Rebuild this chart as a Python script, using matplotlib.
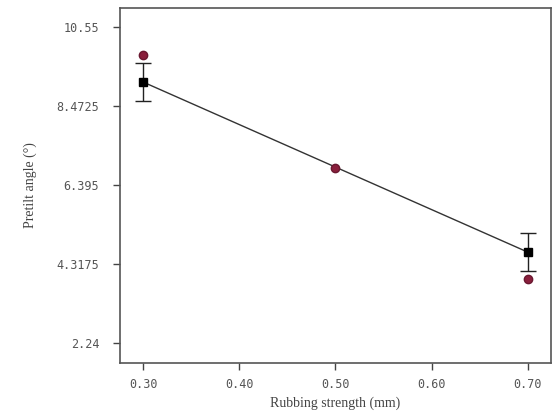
import matplotlib.pyplot as plt
import numpy as np

# rubbing strength (mm)
strength = [0.30, 0.50, 0.70]
# measured pretilt (squares with error bars) at the ends
meas_x = [0.30, 0.70]
meas_y = [9.10, 4.63]
meas_err = [0.50, 0.50]
# model points (circles)
model_y = [9.81, 6.84, 3.92]

yticks = [2.24, 4.3175, 6.395, 8.4725, 10.55]
ytick_labels = ["2.24", "4.3175", "6.395", "8.4725", "10.55"]
xticks = [0.30, 0.40, 0.50, 0.60, 0.70]
xtick_labels = ["0.30", "0.40", "0.50", "0.60", "0.70"]

fig = plt.figure(figsize=(5.53, 4.13), dpi=100)
ax = fig.add_axes([0.217, 0.121, 0.779, 0.860])

# fitted line between measured points
ax.plot(meas_x, meas_y, color="#333333", lw=1.0, zorder=2)
ax.errorbar(meas_x, meas_y, yerr=meas_err, fmt="s", color="black",
            ms=6, ecolor="#222222", elinewidth=1.0, capsize=6, capthick=1.0, zorder=3)
ax.plot(strength, model_y, "o", color="#8a1f3c", ms=6, mec="#6a1830", zorder=4)

ax.set_xlim(0.276, 0.724)
ax.set_ylim(1.714, 11.05)
ax.set_xticks(xticks)
ax.set_xticklabels(xtick_labels)
ax.set_yticks(yticks)
ax.set_yticklabels(ytick_labels)

for s in ax.spines.values():
    s.set_color("#555555")
    s.set_linewidth(1.2)
ax.tick_params(direction="out", length=5, width=1, color="#444444",
               labelsize=8.5, labelcolor="#555555")
ax.tick_params(axis="y", pad=10)
ax.tick_params(axis="x", pad=6)
for lab in ax.get_xticklabels() + ax.get_yticklabels():
    lab.set_family("DejaVu Sans Mono")

ax.set_xlabel("Rubbing strength (mm)", family="Liberation Serif", fontsize=10,
              color="#444444", labelpad=4)
ax.set_ylabel("Pretilt angle (°)", family="Liberation Serif", fontsize=10,
              color="#444444", labelpad=14)

fig.savefig("out.png", dpi=100)
